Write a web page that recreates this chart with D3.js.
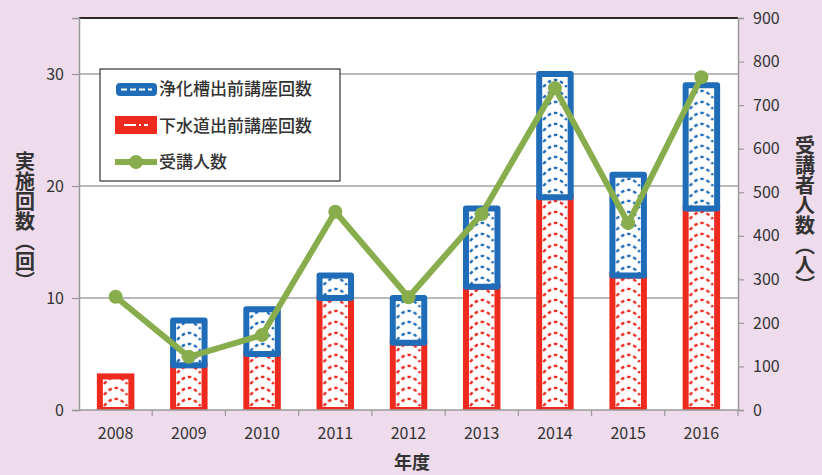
<!DOCTYPE html>
<html>
<head>
<meta charset="utf-8">
<script src="https://cdn.jsdelivr.net/npm/d3@7"></script>
<style>
  body { margin: 0; background: #eedbeb; }
  text { font-family: "Noto Sans CJK JP", "Noto Sans", sans-serif; fill: #333; }
</style>
</head>
<body>
<div class="chart"></div>
<script>
var svgWidth = 822;
var svgHeight = 475;

// data
var years = ["2008", "2009", "2010", "2011", "2012", "2013", "2014", "2015", "2016"];
var gesuidoCounts = [3, 4, 5, 10, 6, 11, 19, 12, 18];   // red
var johkasoCounts = [0, 4, 4, 2, 4, 7, 11, 9, 11];      // blue
var attendees = [260, 122, 172, 455, 259, 450, 739, 429, 764];
var leftTicks = [0, 10, 20, 30];
var rightTicks = [0, 100, 200, 300, 400, 500, 600, 700, 800, 900];

var plot = { left: 79, right: 738, top: 18, bottom: 410 };

var blue = "#1f6cb8";
var red = "#ee2a1f";
var green = "#88ad4c";

var svg = d3.select(".chart")
  .append("svg")
  .attr("width", svgWidth)
  .attr("height", svgHeight);

// scales
var x = d3.scaleBand()
  .domain(years)
  .range([plot.left, plot.right])
  .paddingInner(0.57)
  .paddingOuter(0.285);

var yLeft = d3.scaleLinear().domain([0, 35]).range([plot.bottom, plot.top]);
var yRight = d3.scaleLinear().domain([0, 900]).range([plot.bottom, plot.top]);

// patterns: white with dashed chevrons
var defs = svg.append("defs");
function makePattern(id, color) {
  var bw = x.bandwidth();
  var p = defs.append("pattern")
    .attr("id", id)
    .attr("patternUnits", "userSpaceOnUse")
    .attr("x", x(years[0]))
    .attr("y", 0)
    .attr("width", x.step())
    .attr("height", 11);
  p.append("rect").attr("width", x.step()).attr("height", 11).attr("fill", "#fff");
  p.append("path")
    .attr("d", `M4,10 Q${bw / 2 - 4},2 ${bw / 2},3 Q${bw / 2 + 4},2 ${bw - 4},10`)
    .attr("fill", "none")
    .attr("stroke", color)
    .attr("stroke-width", 2.4)
    .attr("stroke-dasharray", "3.5,3");
}
makePattern("patRed", red);
makePattern("patBlue", blue);

// plot background
svg.append("rect")
  .attr("x", plot.left)
  .attr("y", plot.top)
  .attr("width", plot.right - plot.left)
  .attr("height", plot.bottom - plot.top)
  .attr("fill", "#fff");

// gridlines
svg.append("g")
  .selectAll("line")
  .data(leftTicks.filter(d => d > 0))
  .enter()
  .append("line")
  .attr("x1", plot.left)
  .attr("x2", plot.right)
  .attr("y1", d => yLeft(d))
  .attr("y2", d => yLeft(d))
  .attr("stroke", "#a3a3a3")
  .attr("stroke-width", 1.5);

// top border
svg.append("line")
  .attr("x1", plot.left)
  .attr("x2", plot.right)
  .attr("y1", plot.top)
  .attr("y2", plot.top)
  .attr("stroke", "#2a2a2a")
  .attr("stroke-width", 2);

// bars: red first, blue stacked over it
var bars = svg.append("g");
years.forEach(function (yr, i) {
  var r = gesuidoCounts[i];
  var b = johkasoCounts[i];
  bars.append("rect")
    .attr("x", x(yr))
    .attr("y", yLeft(r))
    .attr("width", x.bandwidth())
    .attr("height", yLeft(0) - yLeft(r))
    .attr("fill", "url(#patRed)")
    .attr("stroke", red)
    .attr("stroke-width", 6);
  if (b > 0) {
    bars.append("rect")
      .attr("x", x(yr))
      .attr("y", yLeft(r + b))
      .attr("width", x.bandwidth())
      .attr("height", yLeft(r) - yLeft(r + b))
      .attr("fill", "url(#patBlue)")
      .attr("stroke", blue)
      .attr("stroke-width", 6)
      .attr("stroke-linejoin", "round");
  }
});

// cover bottom stroke overflow below axis
svg.append("rect")
  .attr("x", plot.left - 1)
  .attr("y", plot.bottom)
  .attr("width", plot.right - plot.left + 2)
  .attr("height", 6)
  .attr("fill", "#eedbeb");

// axes
var leftAxis = d3.axisLeft(yLeft).tickValues(leftTicks).tickSize(7).tickPadding(8);
var rightAxis = d3.axisRight(yRight).tickValues(rightTicks).tickSize(6).tickPadding(9);

var gl = svg.append("g")
  .attr("transform", `translate(${plot.left},0)`)
  .call(leftAxis);
var gr = svg.append("g")
  .attr("transform", `translate(${plot.right},0)`)
  .call(rightAxis);

[gl, gr].forEach(function (g) {
  g.select(".domain").attr("stroke", "#9a9a9a").attr("stroke-width", 1.5);
  g.selectAll(".tick line").attr("stroke", "#9a9a9a").attr("stroke-width", 1.2);
  g.selectAll(".tick text")
    .style("font-size", "16px")
    .attr("fill", "#2b2b2b");
});

// bottom axis
var gb = svg.append("g");
gb.append("line")
  .attr("x1", plot.left)
  .attr("x2", plot.right)
  .attr("y1", plot.bottom)
  .attr("y2", plot.bottom)
  .attr("stroke", "#9a9a9a")
  .attr("stroke-width", 1.5);
gb.selectAll(".sep")
  .data(years)
  .enter()
  .append("line")
  .attr("x1", d => x(d) + x.bandwidth() / 2 + x.step() / 2)
  .attr("x2", d => x(d) + x.bandwidth() / 2 + x.step() / 2)
  .attr("y1", plot.bottom)
  .attr("y2", plot.bottom + 6)
  .attr("stroke", "#9a9a9a")
  .attr("stroke-width", 1.2);
gb.selectAll(".lbl")
  .data(years)
  .enter()
  .append("text")
  .attr("x", d => x(d) + x.bandwidth() / 2)
  .attr("y", 439)
  .attr("text-anchor", "middle")
  .style("font-size", "16px")
  .attr("fill", "#2b2b2b")
  .text(d => d);

// attendee line
var line = d3.line()
  .x((d, i) => x(years[i]) + x.bandwidth() / 2)
  .y(d => yRight(d));

svg.append("path")
  .datum(attendees)
  .attr("d", line)
  .attr("fill", "none")
  .attr("stroke", green)
  .attr("stroke-width", 6)
  .attr("stroke-linejoin", "round");

svg.append("g")
  .selectAll("circle")
  .data(attendees)
  .enter()
  .append("circle")
  .attr("cx", (d, i) => x(years[i]) + x.bandwidth() / 2)
  .attr("cy", d => yRight(d))
  .attr("r", 7)
  .attr("fill", green);

// legend
var legend = svg.append("g");
legend.append("rect")
  .attr("x", 100)
  .attr("y", 69)
  .attr("width", 240)
  .attr("height", 112)
  .attr("fill", "#fff")
  .attr("stroke", "#333")
  .attr("stroke-width", 1.2);

legend.append("rect")
  .attr("x", 116).attr("y", 83).attr("width", 41).attr("height", 13)
  .attr("rx", 4)
  .attr("fill", blue);
legend.append("line")
  .attr("x1", 121).attr("x2", 152).attr("y1", 89.5).attr("y2", 89.5)
  .attr("stroke", "#fff").attr("stroke-width", 2).attr("stroke-dasharray", "6,3");

legend.append("rect")
  .attr("x", 115).attr("y", 116).attr("width", 42).attr("height", 18)
  .attr("fill", red);
legend.append("line")
  .attr("x1", 124).attr("x2", 148).attr("y1", 125).attr("y2", 125)
  .attr("stroke", "#fff").attr("stroke-width", 2).attr("stroke-dasharray", "12,3,2,3");

legend.append("line")
  .attr("x1", 115).attr("x2", 157).attr("y1", 162).attr("y2", 162)
  .attr("stroke", green).attr("stroke-width", 6);
legend.append("circle")
  .attr("cx", 136).attr("cy", 162).attr("r", 7).attr("fill", green);

var legendLabels = ["浄化槽出前講座回数", "下水道出前講座回数", "受講人数"];
var legendY = [89, 126, 162];
legend.selectAll(".lt")
  .data(legendLabels)
  .enter()
  .append("text")
  .attr("x", 159)
  .attr("y", (d, i) => legendY[i])
  .attr("dy", "0.36em")
  .style("font-size", "17px")
  .style("font-weight", "500")
  .attr("fill", "#111")
  .text(d => d);

// axis titles
svg.append("text")
  .attr("x", 25)
  .attr("y", 221)
  .attr("text-anchor", "middle")
  .style("writing-mode", "vertical-rl")
  .style("font-size", "20px")
  .style("font-weight", "bold")
  .attr("fill", "#222")
  .text("実施回数（回）");

svg.append("text")
  .attr("x", 805)
  .attr("y", 215)
  .attr("text-anchor", "middle")
  .style("writing-mode", "vertical-rl")
  .style("font-size", "20px")
  .style("font-weight", "bold")
  .attr("fill", "#222")
  .text("受講者人数（人）");

svg.append("text")
  .attr("x", 412)
  .attr("y", 469)
  .attr("text-anchor", "middle")
  .style("font-size", "18px")
  .style("font-weight", "bold")
  .attr("fill", "#222")
  .text("年度");
</script>
</body>
</html>
